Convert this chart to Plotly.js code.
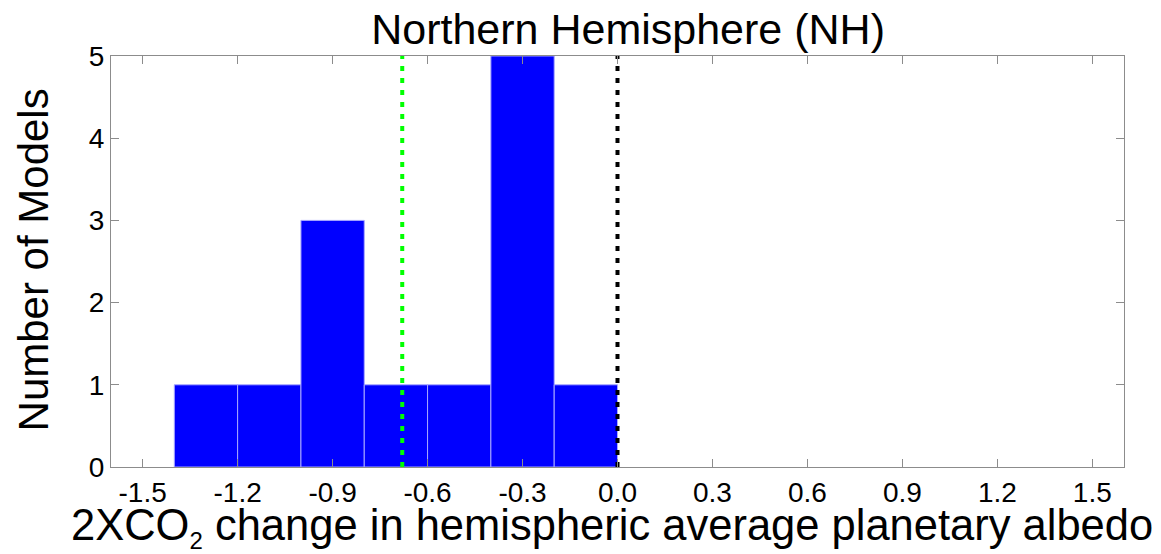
<!DOCTYPE html>
<html>
<head>
<meta charset="utf-8">
<script src="https://cdn.plot.ly/plotly-3.0.1.min.js"></script>
<style>
  html, body { margin: 0; padding: 0; background: #fff; }
  #chart { width: 1161px; height: 554px; }
</style>
</head>
<body>
<div id="chart"></div>
<script>
// Histogram of the 2xCO2 change in NH average planetary albedo across models
const binCenters = [-1.3, -1.1, -0.9, -0.7, -0.5, -0.3, -0.1];
const binWidth = 0.2;
const modelCounts = [1, 1, 3, 1, 1, 5, 1];

// Reference lines: multi-model mean (green) and zero (black)
const meanChange = -0.68;
const zeroLine = 0.0;

const xTickVals = [-1.5, -1.2, -0.9, -0.6, -0.3, 0.0, 0.3, 0.6, 0.9, 1.2, 1.5];
const xTickText = ['-1.5', '-1.2', '-0.9', '-0.6', '-0.3', '0.0', '0.3', '0.6', '0.9', '1.2', '1.5'];
const yTickVals = [0, 1, 2, 3, 4, 5];

const FONT = '"Liberation Sans", Arial, Helvetica, sans-serif';
const yTop = Math.max(...modelCounts);

const traces = [
  {
    type: 'bar',
    x: binCenters,
    y: modelCounts,
    width: binCenters.map(() => binWidth),
    marker: { color: '#0000ff', line: { color: '#a8a8ff', width: 1 } },
    hoverinfo: 'x+y'
  },
  {
    type: 'scatter', mode: 'lines',
    x: [meanChange, meanChange], y: [0, yTop],
    line: { color: '#00ff00', width: 4, dash: '5px,7px' },
    hoverinfo: 'x'
  },
  {
    type: 'scatter', mode: 'lines',
    x: [zeroLine, zeroLine], y: [0, yTop],
    line: { color: '#000000', width: 4, dash: '5px,7px' },
    hoverinfo: 'x'
  }
];

const axisCommon = {
  showgrid: false,
  zeroline: false,
  showline: true,
  linecolor: '#8c8c8c',
  linewidth: 1,
  mirror: 'ticks',
  ticks: 'inside',
  ticklen: 8,
  tickcolor: '#8c8c8c',
  tickfont: { family: FONT, size: 28, color: '#000' }
};

const layout = {
  width: 1161,
  height: 554,
  paper_bgcolor: '#ffffff',
  plot_bgcolor: '#ffffff',
  showlegend: false,
  margin: { l: 111, r: 37, t: 56, b: 87 },
  font: { family: FONT, color: '#000' },
  bargap: 0,
  title: {
    text: 'Northern Hemisphere (NH)',
    font: { family: FONT, size: 43, color: '#000' },
    xref: 'container', x: 0.541, xanchor: 'center',
    yref: 'container', y: 0.947, yanchor: 'middle'
  },
  xaxis: Object.assign({}, axisCommon, {
    range: [-1.6, 1.6],
    tickmode: 'array',
    tickvals: xTickVals,
    ticktext: xTickText
  }),
  yaxis: Object.assign({}, axisCommon, {
    range: [0, 5],
    tickmode: 'array',
    tickvals: yTickVals
  }),
  annotations: [
    {
      text: '2XCO<sub><span style="font-size:24px">2</span></sub> change in hemispheric average planetary albedo',
      xref: 'paper', yref: 'paper',
      x: 0.495, y: -0.148, xanchor: 'center', yanchor: 'middle',
      showarrow: false,
      font: { family: FONT, size: 43.5, color: '#000' }
    },
    {
      text: 'Number of Models',
      xref: 'paper', yref: 'paper',
      x: -0.077, y: 0.505, xanchor: 'center', yanchor: 'middle',
      textangle: -90,
      showarrow: false,
      font: { family: FONT, size: 42, color: '#000' }
    }
  ]
};

Plotly.newPlot('chart', traces, layout, { displayModeBar: false, staticPlot: true });
</script>
</body>
</html>
